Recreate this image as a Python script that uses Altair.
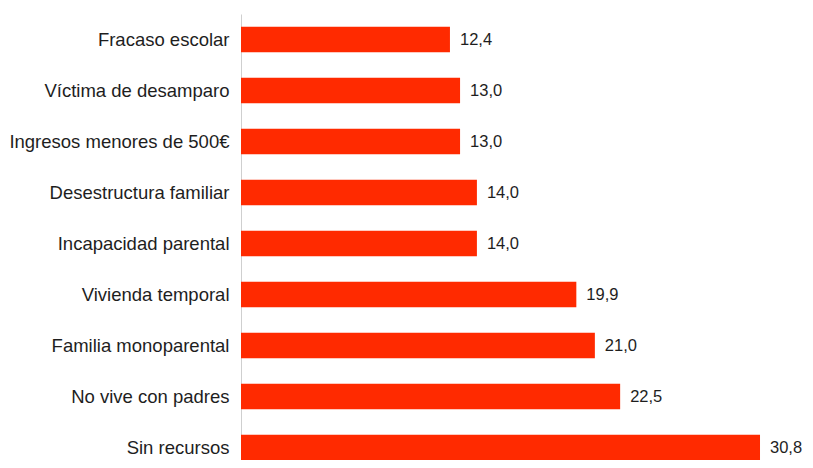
import altair as alt
import pandas as pd

categories = [
    "Fracaso escolar",
    "Víctima de desamparo",
    "Ingresos menores de 500€",
    "Desestructura familiar",
    "Incapacidad parental",
    "Vivienda temporal",
    "Familia monoparental",
    "No vive con padres",
    "Sin recursos",
]
values = [12.4, 13.0, 13.0, 14.0, 14.0, 19.9, 21.0, 22.5, 30.8]

df = pd.DataFrame({"cat": categories, "v": values})

y_enc = alt.Y(
    "cat:N",
    sort=categories,
    title=None,
    scale=alt.Scale(paddingInner=0.5, paddingOuter=0.25, range=[0, 459]),
    axis=alt.Axis(
        ticks=False,
        labelPadding=12,
        labelFontSize=18.5,
        labelLimit=400,
        labelFont="Liberation Sans",
        labelColor="#1e1e1e",
        domainColor="#cfcfcf",
        domainWidth=1,
        grid=False,
    ),
)
x_enc = alt.X("v:Q", axis=None, scale=alt.Scale(domain=[0, 33.47], nice=False))

bars = alt.Chart(df).mark_bar(color="#FF2A00").encode(x=x_enc, y=y_enc)

labels = (
    alt.Chart(df)
    .transform_calculate(lbl="replace(format(datum.v, '.1f'), '.', ',')")
    .mark_text(
        align="left",
        baseline="middle",
        dx=10,
        fontSize=16.5,
        font="Liberation Sans",
        color="#1e1e1e",
    )
    .encode(x=x_enc, y=y_enc, text="lbl:N")
)

chart = (
    alt.layer(bars, labels)
    .properties(
        width=564,
        height=446,
        background="white",
        autosize=alt.AutoSizeParams(type="none"),
        padding={"left": 233, "top": 6, "right": 0, "bottom": 0},
    )
    .configure_view(strokeWidth=0, stroke="transparent")
)

chart.save("out.html", embed_options={"renderer": "svg", "actions": False})
